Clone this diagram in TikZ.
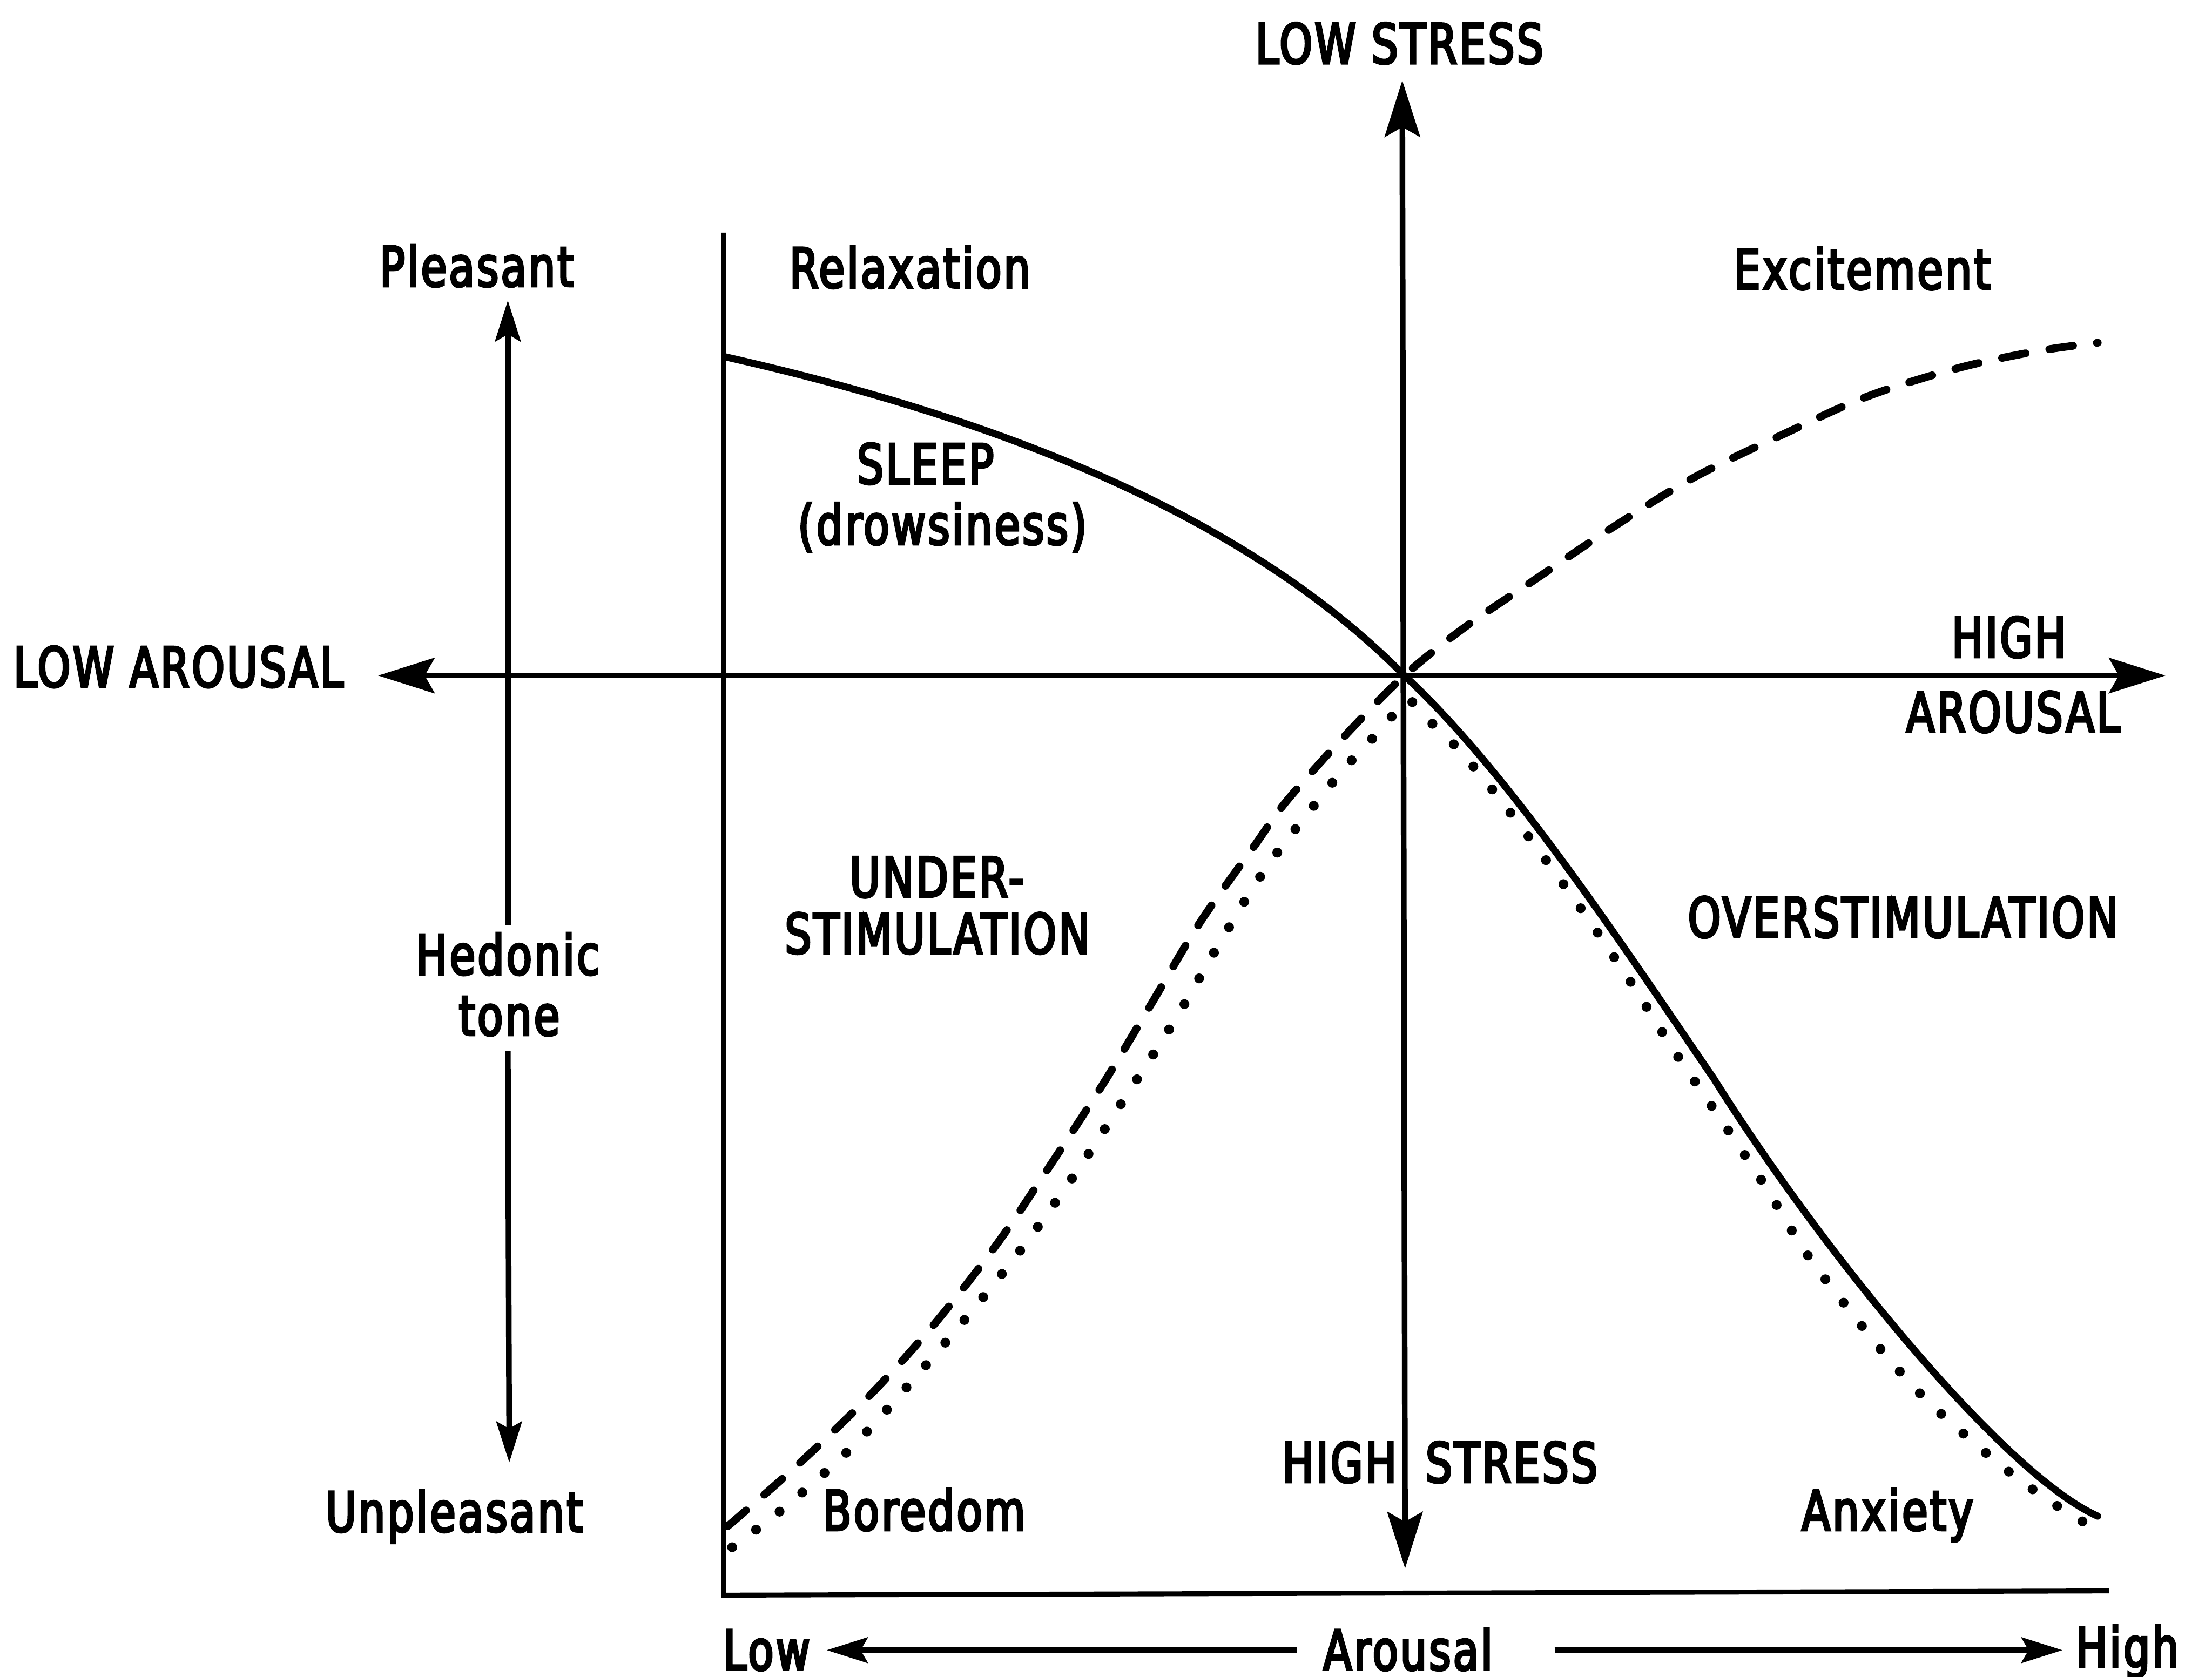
\documentclass[tikz,border=0pt]{standalone}
\usepackage{fontspec}
\setmainfont[FakeStretch=0.76,FakeBold=4,LetterSpace=4]{DejaVu Sans}
\usetikzlibrary{arrows.meta}

\begin{document}
\begin{tikzpicture}[x=0.01cm,y=-0.01cm,
  lbl/.style={font=\fontsize{11.1}{13}\selectfont, inner sep=0pt, anchor=base},
  frameline/.style={line width=0.035cm},
  axisline/.style={line width=0.04cm},
  bigarrows/.style={{Stealth[length=0.40cm,width=0.25cm,inset=0.07cm]}-{Stealth[length=0.40cm,width=0.25cm,inset=0.07cm]}},
  midarrow/.style={-{Stealth[length=0.29cm,width=0.18cm,inset=0.05cm]}},
  solidcurve/.style={line width=0.05cm, line cap=round},
  dashcurve/.style={line width=0.055cm, line cap=round, dash pattern=on 0.17cm off 0.17cm},
  dotcurve/.style={line width=0.07cm, line cap=round, dash pattern=on 0pt off 0.21cm},
]
\useasboundingbox (0,0) rectangle (1568,1189);

% ---- frame of the plot area ----
\coordinate (ftop) at (513,165);
\coordinate (fcorner) at (513,1131);
\coordinate (fend) at (1495,1128);
\draw[frameline] (ftop) -- (fcorner) -- (fend);

% ---- arousal and stress axes ----
\coordinate (origin) at (995.5,479);
\coordinate (aroL) at (268,479);
\coordinate (aroR) at (1535,479);
\coordinate (strT) at (994,57);
\coordinate (strB) at (996,1112);
\draw[axisline, bigarrows] (aroL) -- (aroR);
\draw[axisline, bigarrows] (strT) -- (strB);

% ---- hedonic tone scale ----
\coordinate (pleasTip) at (360,213);
\coordinate (hedTop) at (360,656);
\coordinate (hedBot) at (360,745);
\coordinate (unpTip) at (361,1037);
\draw[axisline, midarrow] (hedTop) -- (pleasTip);
\draw[axisline, midarrow] (hedBot) -- (unpTip);

% ---- arousal scale at the bottom ----
\coordinate (lowTip) at (586,1170);
\coordinate (lowEnd) at (919,1170);
\coordinate (highStart) at (1102,1170);
\coordinate (highTip) at (1462,1170);
\draw[axisline, midarrow] (lowEnd) -- (lowTip);
\draw[axisline, midarrow] (highStart) -- (highTip);

% ---- curves ----
% relaxation -> overstimulation (solid)
\coordinate (solidStart) at (514,253);
\coordinate (solidTurn) at (1215,765);
\coordinate (solidEnd) at (1487,1075);
\draw[solidcurve] (solidStart)
  .. controls (700,295) and (880,362) .. (origin)
  .. controls (1070,548) and (1150,670) .. (solidTurn)
  .. controls (1290,885) and (1420,1045) .. (solidEnd);

% boredom -> excitement (dashed)
\draw[dashcurve] plot[smooth, tension=0.55] coordinates {
  (516,1082) (564,1040) (616,990) (663,938) (706,883) (740,833)
  (781,770) (816,712) (850,655) (889,600) (912,568) (954,521)
  (995.5,479) (1038,445) (1088,411) (1140,376) (1200,339) (1266,307)
  (1324,281) (1388,261) (1444,249) (1487,243)};

% boredom -> anxiety (dotted)
\draw[dotcurve] plot[smooth, tension=0.55] coordinates {
  (519,1097) (556,1069) (603,1027) (645,981) (686,933) (726,883)
  (763,831) (799,776) (833,723) (862,673) (895,619) (930,573)
  (954.6,543) (982,514) (997,496) (1013,511) (1028,525) (1054,555)
  (1088.6,600) (1124,649) (1157.7,699) (1188,747) (1218,791) (1250,839)
  (1280,888) (1315,934) (1341,966) (1367,994) (1397,1021) (1426,1045)
  (1454,1065) (1485,1084)};

% ---- labels ----
\node[lbl] (lowstress) at (992,45) {LOW STRESS};
\node[lbl] (highS1) at (949.5,1051) {HIGH};
\node[lbl] (highS2) at (1071.5,1051) {STRESS};
\node[lbl] (lowarousal) at (126.5,487) {LOW AROUSAL};
\node[lbl] (highA1) at (1424,466) {HIGH};
\node[lbl] (highA2) at (1427,519) {AROUSAL};

\node[lbl] (pleasant) at (338,203) {Pleasant};
\node[lbl] (unpleasant) at (322,1086) {Unpleasant};
\node[lbl] (hedonic) at (360,691) {Hedonic};
\node[lbl] (tone) at (361,734) {tone};

\node[lbl] (relax) at (645,204) {Relaxation};
\node[lbl] (excite) at (1320,205) {Excitement};
\node[lbl] (sleep) at (656,343) {SLEEP};
\node[lbl] (drowsy) at (668,386) {(drowsiness)};
\node[lbl] (under1) at (664,636) {UNDER-};
\node[lbl] (under2) at (664.5,676) {STIMULATION};
\node[lbl] (over) at (1349,664.5) {OVERSTIMULATION};
\node[lbl] (boredom) at (655,1085) {Boredom};
\node[lbl] (anxiety) at (1338,1085) {Anxiety};

\node[lbl] (lowlbl) at (543.5,1184) {Low};
\node[lbl] (arousallbl) at (998,1184) {Arousal};
\node[lbl] (highlbl) at (1508,1182) {High};
\end{tikzpicture}
\end{document}
